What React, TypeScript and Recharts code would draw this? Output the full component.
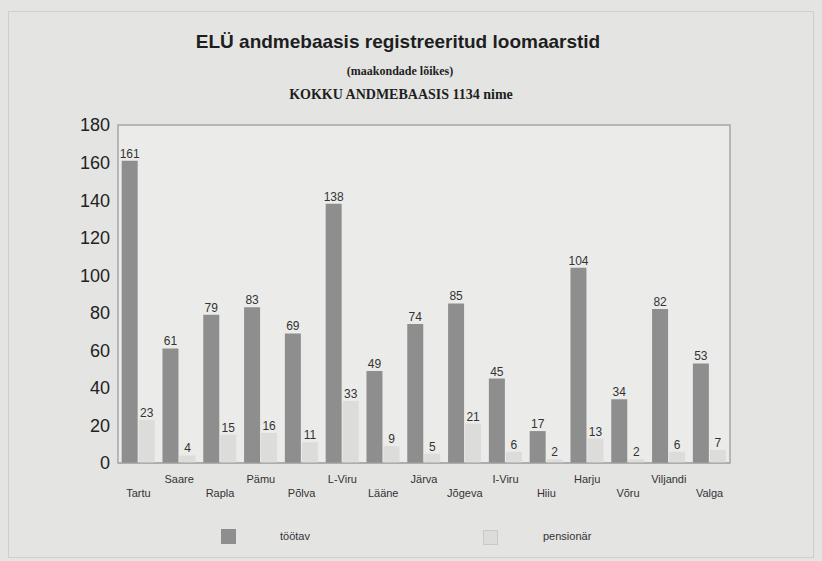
import { BarChart, Bar, XAxis, YAxis, LabelList, ReferenceArea } from "recharts";

const maakonnad = [
  "Tartu", "Saare", "Rapla", "Pämu", "Põlva", "L-Viru", "Lääne", "Järva",
  "Jõgeva", "I-Viru", "Hiiu", "Harju", "Võru", "Viljandi", "Valga",
];
const tootav = [161, 61, 79, 83, 69, 138, 49, 74, 85, 45, 17, 104, 34, 82, 53];
const pensionar = [23, 4, 15, 16, 11, 33, 9, 5, 21, 6, 2, 13, 2, 6, 7];
const yTicks = [0, 20, 40, 60, 80, 100, 120, 140, 160, 180];

const data = maakonnad.map((name, i) => ({
  name,
  tootav: tootav[i],
  pensionar: pensionar[i],
}));

const DARK = "#8e8e8e";
const LIGHT = "#dcdcdb";

// alternate labels between two rows like the original
function TwoRowTick(props: any) {
  const { x, y, payload, index } = props;
  const lower = index % 2 === 0;
  return (
    <text
      x={x}
      y={y + (lower ? 26 : 12)}
      textAnchor="middle"
      fontSize={11}
      fontFamily="Arial, Liberation Sans, sans-serif"
      fill="#333"
    >
      {payload.value}
    </text>
  );
}

export default function App() {
  return (
    <div
      style={{
        position: "absolute",
        left: 0,
        top: 0,
        width: 822,
        height: 561,
        background: "#e4e5e3",
        fontFamily: "Arial, Liberation Sans, sans-serif",
        overflow: "hidden",
      }}
    >
      <div
        style={{
          position: "absolute",
          left: 8,
          top: 11,
          width: 804,
          height: 545,
          border: "1px solid #cfd0ce",
        }}
      />
      <div
        style={{
          position: "absolute",
          left: 0,
          width: 796,
          top: 31,
          textAlign: "center",
          fontSize: 19,
          fontWeight: "bold",
          color: "#1e1e1e",
        }}
      >
        ELÜ andmebaasis registreeritud loomaarstid
      </div>
      <div
        style={{
          position: "absolute",
          left: 0,
          width: 800,
          top: 64,
          textAlign: "center",
          fontSize: 12,
          fontWeight: "bold",
          fontFamily: "Liberation Serif, serif",
          color: "#1e1e1e",
        }}
      >
        (maakondade lõikes)
      </div>
      <div
        style={{
          position: "absolute",
          left: 0,
          width: 802,
          top: 87,
          textAlign: "center",
          fontSize: 14,
          fontWeight: "bold",
          fontFamily: "Liberation Serif, serif",
          color: "#1e1e1e",
        }}
      >
        KOKKU ANDMEBAASIS 1134 nime
      </div>

      <div style={{ position: "absolute", left: 0, top: 0 }}>
        <BarChart
          width={822}
          height={561}
          data={data}
          margin={{ top: 125, right: 92, bottom: 58, left: 58 }}
          barCategoryGap="9%"
          barGap={1}
        >
          <ReferenceArea
            y1={0}
            y2={180}
            fill="#ebecea"
            fillOpacity={1}
            stroke="#a5a5a5"
            strokeWidth={1.5}
          />
          <XAxis
            dataKey="name"
            interval={0}
            axisLine={{ stroke: "#a5a5a5" }}
            tickLine={false}
            height={40}
            tick={<TwoRowTick />}
          />
          <YAxis
            domain={[0, 180]}
            ticks={yTicks}
            axisLine={false}
            tickLine={false}
            width={60}
            tick={{ fontSize: 18, fill: "#222", fontFamily: "Arial, Liberation Sans, sans-serif" }}
          />
          <Bar dataKey="tootav" fill={DARK} isAnimationActive={false}>
            <LabelList dataKey="tootav" position="top" fontSize={12} fill="#333" offset={3} />
          </Bar>
          <Bar dataKey="pensionar" fill={LIGHT} isAnimationActive={false}>
            <LabelList dataKey="pensionar" position="top" fontSize={12} fill="#333" offset={3} />
          </Bar>
        </BarChart>
      </div>

      <div style={{ position: "absolute", left: 221, top: 529, width: 15, height: 15, background: DARK }} />
      <div style={{ position: "absolute", left: 280, top: 530, fontSize: 11, color: "#333" }}>
        töötav
      </div>
      <div
        style={{
          position: "absolute",
          left: 483,
          top: 530,
          width: 15,
          height: 15,
          boxSizing: "border-box",
          background: LIGHT,
          border: "1px solid #c8c8c8",
        }}
      />
      <div style={{ position: "absolute", left: 543, top: 530, fontSize: 11, color: "#333" }}>
        pensionär
      </div>
    </div>
  );
}
